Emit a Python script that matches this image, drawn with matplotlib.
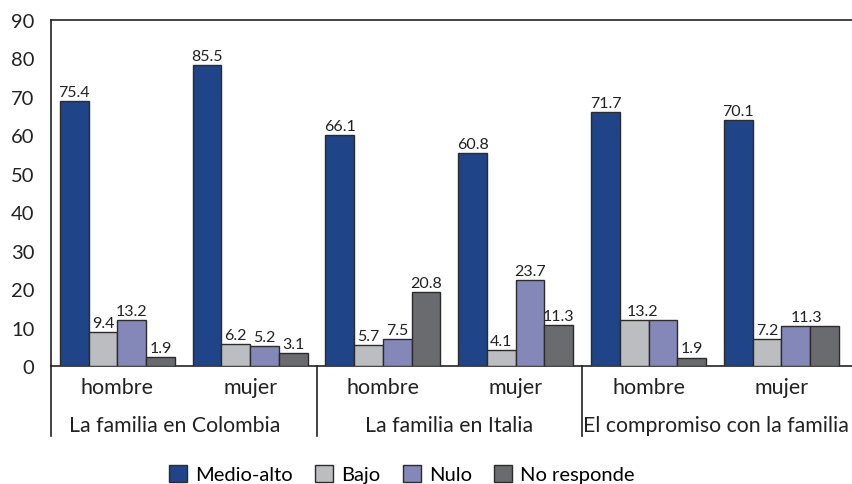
import matplotlib
matplotlib.use("Agg")
import matplotlib.pyplot as plt
import numpy as np

plt.rcParams['font.family'] = ['Lato', 'DejaVu Sans']

groups = ["La familia en Colombia", "La familia en Italia", "El compromiso con la familia"]
subcats = ["hombre", "mujer", "hombre", "mujer", "hombre", "mujer"]
series = ["Medio-alto", "Bajo", "Nulo", "No responde"]

# bar heights as drawn in the reference
medio_alto = [69.0, 78.2, 60.1, 55.3, 66.0, 64.0]
bajo = [8.9, 5.6, 5.5, 4.2, 12.0, 7.0]
nulo = [12.0, 5.2, 7.0, 22.3, 12.0, 10.5]
no_responde = [2.3, 3.3, 19.2, 10.7, 2.2, 10.5]

# data labels printed in the reference (None = no label)
lbl_medio_alto = ["75.4", "85.5", "66.1", "60.8", "71.7", "70.1"]
lbl_bajo = ["9.4", "6.2", "5.7", "4.1", "13.2", "7.2"]
lbl_nulo = ["13.2", "5.2", "7.5", "23.7", None, "11.3"]
lbl_no_responde = ["1.9", "3.1", "20.8", "11.3", "1.9", None]

yticks = [0, 10, 20, 30, 40, 50, 60, 70, 80, 90]

colors = ["#1F4487", "#BCBDC0", "#8488B8", "#6A6B6F"]
values = [medio_alto, bajo, nulo, no_responde]
labels = [lbl_medio_alto, lbl_bajo, lbl_nulo, lbl_no_responde]
label_dx = {(1, 4): 6, (2, 5): 8}

fig = plt.figure(figsize=(8.53, 4.85), dpi=100)
ax = fig.add_axes([51/853, 1-367/485, 802/853, 346/485])

x = np.arange(len(subcats))
w = 0.2165
for i, (vals, col, lbls) in enumerate(zip(values, colors, labels)):
    xs = x + (i - 1.5) * w
    ax.bar(xs, vals, width=w, color=col, edgecolor="#2b2b2b", linewidth=1.0,
           label=series[i], zorder=3)
    for j, (xx, v, t) in enumerate(zip(xs, vals, lbls)):
        if t is None:
            continue
        ax.annotate(t, (xx, v), xytext=(label_dx.get((i, j), 0), 1.5),
                    textcoords="offset points", ha="center", va="bottom",
                    fontsize=11.5, color="#222222")

ax.set_xlim(-0.5, 5.54)
ax.set_ylim(0, 90)
ax.set_yticks(yticks)
ax.set_yticklabels([str(t) for t in yticks], fontsize=14.5, color="#222222")
ax.tick_params(axis="y", length=0, pad=12)
ax.set_xticks([])
for s in ["left", "bottom", "top"]:
    ax.spines[s].set_color("#222222")
    ax.spines[s].set_linewidth(1.2)
ax.spines["right"].set_visible(False)

trans = ax.get_xaxis_transform()
for j, s in enumerate(subcats):
    ax.text(j, -0.062, s, transform=trans, ha="center", va="center",
            fontsize=15.5, color="#222222")
group_centers = [0.43, 2.5, 4.51]
for g, c in zip(groups, group_centers):
    ax.text(c, -0.170, g, transform=trans, ha="center", va="center",
            fontsize=15.3, color="#222222")
for b in [-0.5, 1.5, 3.5]:
    ax.plot([b, b], [0, -0.202], transform=trans, color="#222222",
            linewidth=1.2, clip_on=False)

fig.legend(loc="center", bbox_to_anchor=(402/853, 1-475/485), ncol=4,
           frameon=False, fontsize=14.5, handlelength=0.9, handleheight=0.9,
           handletextpad=0.4, columnspacing=1.1, borderpad=0)

fig.savefig("out.png", dpi=100)
